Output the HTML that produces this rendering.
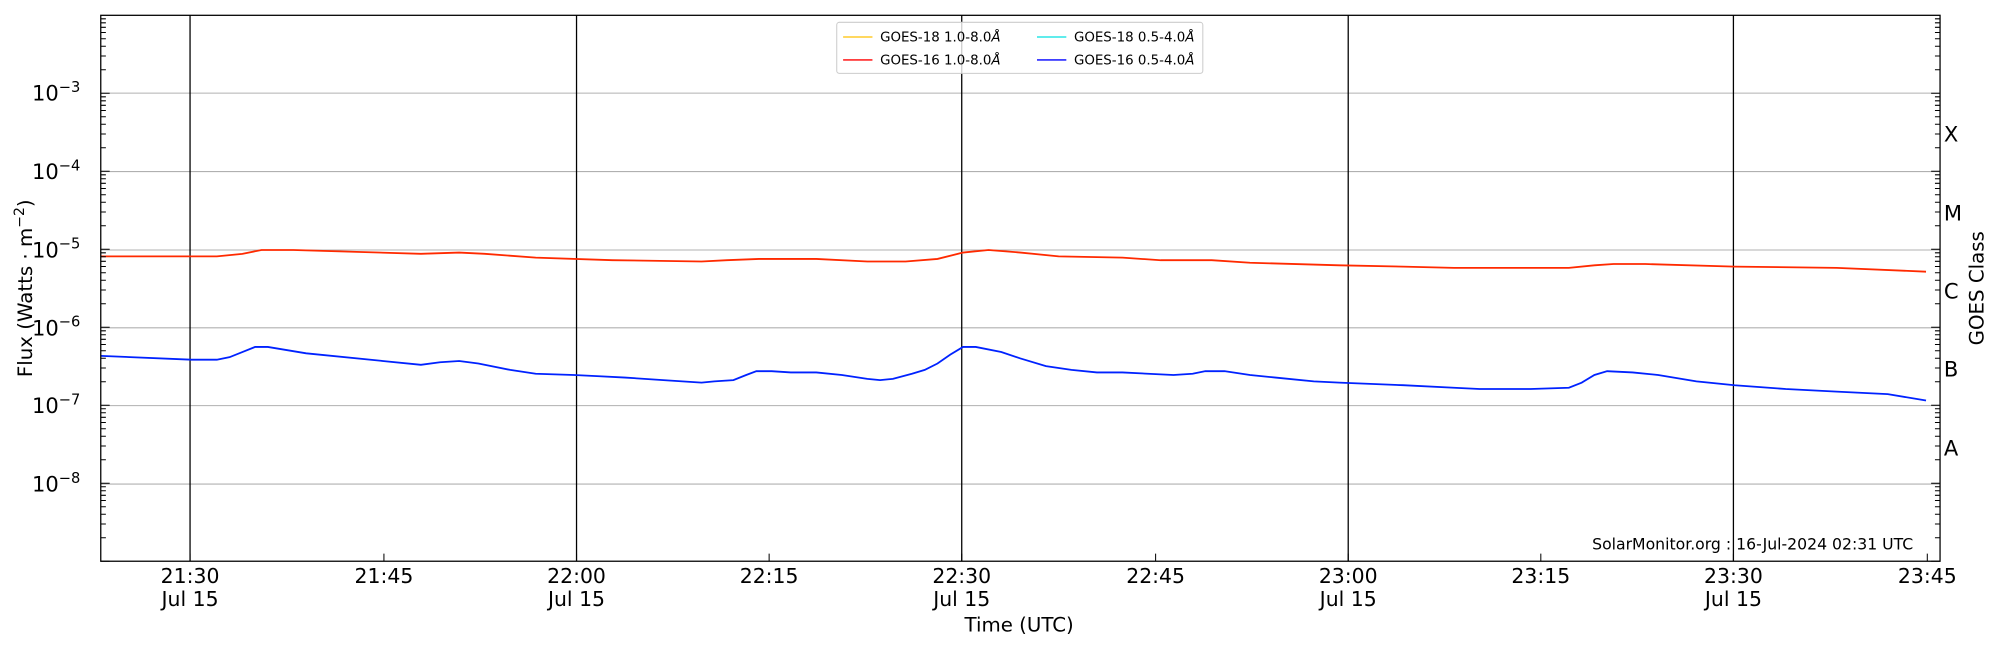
<!DOCTYPE html>
<html><head><meta charset="utf-8"><style>
html,body{margin:0;padding:0;background:#fff;}
svg{display:block;font-family:"DejaVu Sans","Liberation Sans",sans-serif;}
</style></head><body>
<svg width="2000" height="650" viewBox="0 0 1568 509.6" xmlns="http://www.w3.org/2000/svg">
<rect width="1568" height="509.6" fill="#fff"/>
<g stroke="#b0b0b0" stroke-width="0.8">
<line x1="79" x2="1521" y1="73" y2="73"/><line x1="79" x2="1521" y1="134.5" y2="134.5"/>
<line x1="79" x2="1521" y1="196" y2="196"/><line x1="79" x2="1521" y1="257" y2="257"/>
<line x1="79" x2="1521" y1="318" y2="318"/><line x1="79" x2="1521" y1="379.5" y2="379.5"/>
</g>
<g stroke="#000" stroke-width="1">
<line x1="149" x2="149" y1="12" y2="440"/><line x1="452" x2="452" y1="12" y2="440"/>
<line x1="754" x2="754" y1="12" y2="440"/><line x1="1057" x2="1057" y1="12" y2="440"/>
<line x1="1359" x2="1359" y1="12" y2="440"/>
</g>
<polyline fill="none" stroke="#ff2a00" stroke-width="1.4" points="79,201 170,201 180,200 190,199 205,196 230,196 330,199 360,198 380,199 420,202 480,204 550,205 570,204 595,203 640,203 680,205 710,205 735,203 755,198 775,196 800,198 830,201 880,202 910,204 950,204 980,206 1050,208 1100,209 1140,210 1230,210 1250,208 1265,207 1290,207 1360,209 1440,210 1510,213"/>
<polyline fill="none" stroke="#0022ff" stroke-width="1.4" points="79,279 150,282 170,282 180,280 190,276 200,272 210,272 240,277 300,283 330,286 345,284 360,283 375,285 400,290 420,293 450,294 470,295 490,296 520,298 550,300 560,299 575,298 585,294 593,291 605,291 620,292 640,292 660,294 680,297 690,298 700,297 715,293 725,290 735,285 745,278 755,272 765,272 785,276 800,281 820,287 840,290 860,292 880,292 900,293 920,294 935,293 945,291 960,291 980,294 1000,296 1030,299 1050,300 1100,302 1140,304 1160,305 1200,305 1230,304 1240,300 1250,294 1260,291 1280,292 1300,294 1330,299 1360,302 1400,305 1440,307 1480,309 1510,314"/>
<rect x="79" y="12" width="1442" height="428" fill="none" stroke="#000" stroke-width="1"/>
<g stroke="#000" stroke-width="0.8">
<path id="lt" d=""/>
</g>
<script>
(function(){var d="";var dec=61.15;for(var k=0;k<7;k++){var base=440-k*dec;for(var m=1;m<10;m++){var y=base-Math.log10(m)*dec;var L=(m==1)?7:4;d+="M79 "+y.toFixed(2)+"h"+L+"M1521 "+y.toFixed(2)+"h-"+L;}}
[149,301,452,603,754,906,1057,1208,1359,1511].forEach(function(x){d+="M"+x+" 440v-6";});
document.getElementById('lt').setAttribute('d',d);})();
</script>
<g font-size="16.5" text-anchor="end" fill="#000">
<text x="63" y="79">10<tspan font-size="11.5" dy="-7">−3</tspan></text>
<text x="63" y="140.5">10<tspan font-size="11.5" dy="-7">−4</tspan></text>
<text x="63" y="202">10<tspan font-size="11.5" dy="-7">−5</tspan></text>
<text x="63" y="263">10<tspan font-size="11.5" dy="-7">−6</tspan></text>
<text x="63" y="324">10<tspan font-size="11.5" dy="-7">−7</tspan></text>
<text x="63" y="385.5">10<tspan font-size="11.5" dy="-7">−8</tspan></text>
</g>
<text transform="translate(25,226) rotate(-90)" font-size="15.5" text-anchor="middle">Flux (Watts · m<tspan font-size="11" dy="-6">−2</tspan><tspan dy="6">)</tspan></text>
<g font-size="16" text-anchor="middle">
<text x="149" y="457">21:30</text><text x="149" y="475">Jul 15</text>
<text x="301" y="457">21:45</text>
<text x="452" y="457">22:00</text><text x="452" y="475">Jul 15</text>
<text x="603" y="457">22:15</text>
<text x="754" y="457">22:30</text><text x="754" y="475">Jul 15</text>
<text x="906" y="457">22:45</text>
<text x="1057" y="457">23:00</text><text x="1057" y="475">Jul 15</text>
<text x="1208" y="457">23:15</text>
<text x="1359" y="457">23:30</text><text x="1359" y="475">Jul 15</text>
<text x="1511" y="457">23:45</text>
</g>
<text x="799" y="495" font-size="15.5" text-anchor="middle">Time (UTC)</text>
<g font-size="16.5">
<text x="1524" y="111">X</text><text x="1524" y="173">M</text><text x="1524" y="234">C</text>
<text x="1524" y="295">B</text><text x="1524" y="357">A</text>
</g>
<text transform="translate(1555,226) rotate(-90)" font-size="15.5" text-anchor="middle">GOES Class</text>
<text x="1500" y="431" font-size="12.3" text-anchor="end">SolarMonitor.org : 16-Jul-2024 02:31 UTC</text>
<rect x="656" y="17.5" width="287" height="40" rx="2" fill="#fff" fill-opacity="0.8" stroke="#ccc" stroke-width="0.8"/>
<g font-size="10.5">
<line x1="661" x2="684" y1="29" y2="29" stroke="#ffc000"/><text x="690" y="32.5">GOES-18 1.0-8.0<tspan font-style="italic">Å</tspan></text>
<line x1="661" x2="684" y1="47" y2="47" stroke="#ff0000"/><text x="690" y="50.5">GOES-16 1.0-8.0<tspan font-style="italic">Å</tspan></text>
<line x1="813" x2="836" y1="29" y2="29" stroke="#00e0e0"/><text x="842" y="32.5">GOES-18 0.5-4.0<tspan font-style="italic">Å</tspan></text>
<line x1="813" x2="836" y1="47" y2="47" stroke="#0000ff"/><text x="842" y="50.5">GOES-16 0.5-4.0<tspan font-style="italic">Å</tspan></text>
</g>
</svg>
</body></html>
